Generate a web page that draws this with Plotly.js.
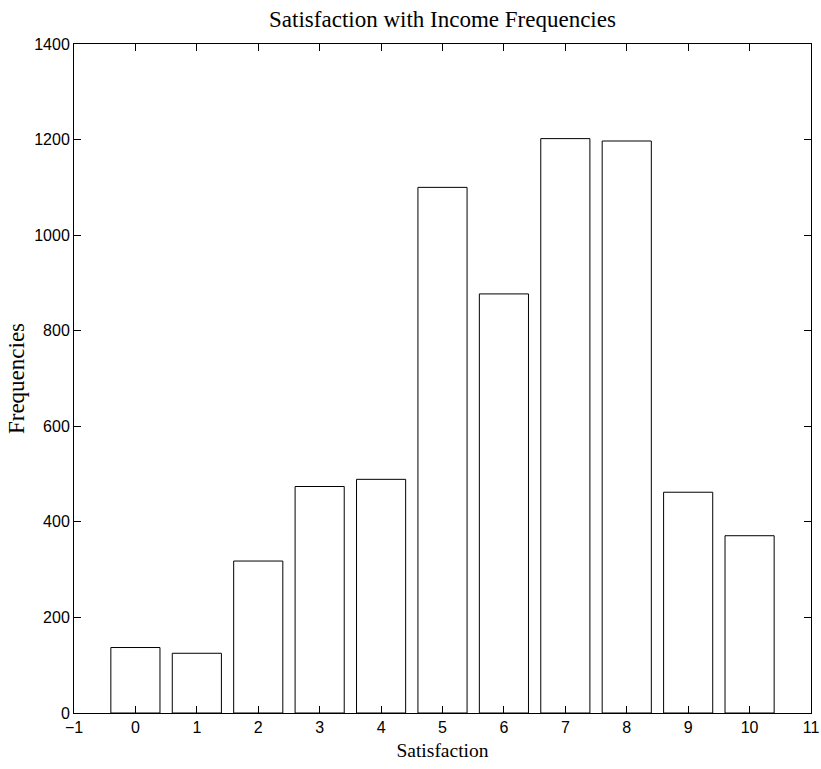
<!DOCTYPE html>
<html>
<head>
<meta charset="utf-8">
<script src="https://cdn.plot.ly/plotly-3.0.1.min.js"></script>
<style>
html,body{margin:0;padding:0;background:#fff;}
#chart{width:821px;height:769px;}
</style>
</head>
<body>
<div id="chart"></div>
<script>
var satisfaction = [0, 1, 2, 3, 4, 5, 6, 7, 8, 9, 10];
var frequencies = [137, 125, 318, 474, 489, 1100, 877, 1202, 1197, 462, 371];
var xTicks = [-1, 0, 1, 2, 3, 4, 5, 6, 7, 8, 9, 10, 11];
var yTicks = [0, 200, 400, 600, 800, 1000, 1200, 1400];

var trace = {
  type: 'bar',
  x: satisfaction,
  y: frequencies,
  width: 0.8,
  marker: {color: '#ffffff', line: {color: '#000000', width: 1}},
  hoverinfo: 'x+y'
};

var tickFont = {family: 'Liberation Sans, Arial, sans-serif', size: 16, color: '#000'};
var serif = 'Liberation Serif, Times New Roman, serif';

var layout = {
  width: 821,
  height: 769,
  margin: {l: 73.5, r: 9.5, t: 44, b: 56, pad: 0},
  paper_bgcolor: '#fff',
  plot_bgcolor: '#fff',
  showlegend: false,
  title: {text: 'Satisfaction with Income Frequencies', font: {family: serif, size: 23, color: '#000'},
          x: 0.5, xref: 'paper', y: 1 - 19/769, yref: 'container', yanchor: 'middle'},
  xaxis: {
    range: [-1, 11], tickvals: xTicks, ticktext: xTicks.map(function(v){return v < 0 ? '\u2212' + Math.abs(v) : String(v);}),
    ticks: 'inside', ticklen: 7, tickwidth: 1, tickcolor: '#000',
    showline: true, linecolor: '#000', linewidth: 1, mirror: 'allticks',
    showgrid: false, zeroline: false, tickfont: tickFont,
    title: {text: 'Satisfaction', font: {family: serif, size: 19.5, color: '#000'}, standoff: 8}
  },
  yaxis: {
    range: [0, 1400], tickvals: yTicks,
    ticks: 'inside', ticklen: 7, tickwidth: 1, tickcolor: '#000',
    showline: true, linecolor: '#000', linewidth: 1, mirror: 'allticks',
    showgrid: false, zeroline: false, tickfont: tickFont,
    title: {text: 'Frequencies', font: {family: serif, size: 23, color: '#000'}, standoff: 3}
  }
};

Plotly.newPlot('chart', [trace], layout, {displayModeBar: false, staticPlot: true});
</script>
</body>
</html>
